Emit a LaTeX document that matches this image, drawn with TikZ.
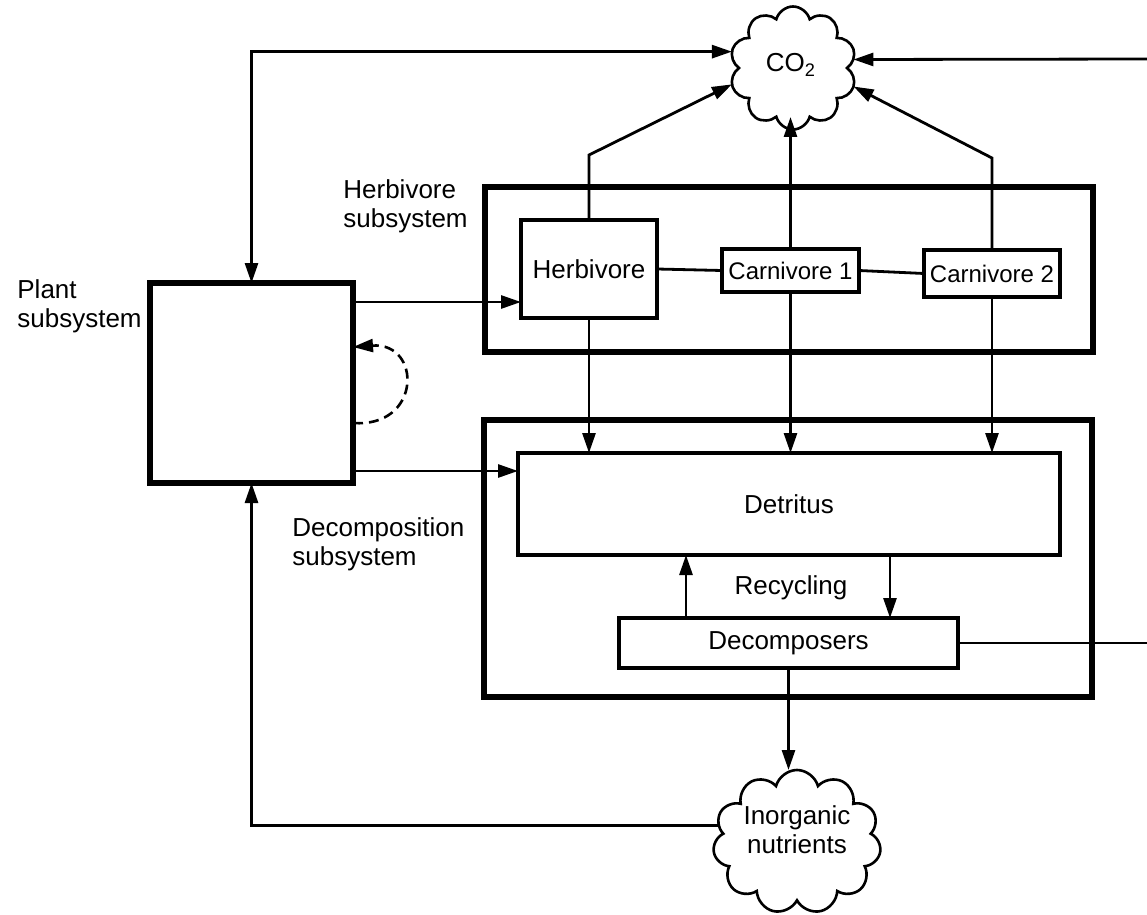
\documentclass[tikz,border=0pt]{standalone}
\usepackage{fontspec}
\setmainfont{Liberation Sans}
\usetikzlibrary{arrows.meta,shapes.symbols,calc}
\begin{document}
\begin{tikzpicture}[x=0.5pt,y=-0.5pt,
  font=\fontsize{13pt}{14.5pt}\selectfont,
  arr/.style={-{Triangle[length=10pt,width=6.5pt]}},
  arrtwo/.style={{Triangle[length=10pt,width=6.5pt]}-{Triangle[length=10pt,width=6.5pt]}},
  conn/.style={line width=1.4pt},
  box/.style={draw, line width=1.8pt, inner sep=0pt, outer sep=0pt, align=center},
  subsys/.style={draw, line width=3pt, inner sep=0pt, outer sep=0pt},
  lab/.style={anchor=north west, align=left, inner sep=0pt},
  cloudnode/.style={cloud, draw, line width=1.3pt, cloud puffs=10, aspect=1, inner sep=0pt, outer sep=0pt}]

\useasboundingbox (0,0) rectangle (1147,915);

% subsystem frames
\node[subsys, minimum width=304pt, minimum height=82.5pt] (hsub) at (789,269.5) {};
\node[subsys, minimum width=304pt, minimum height=138.5pt] (dsub) at (788,558.5) {};

% boxes
\node[box, line width=2.6pt, minimum width=101.5pt, minimum height=100pt] (plant) at (251.5,383) {};
\node[box, minimum width=68pt, minimum height=49pt] (herb) at (589,269) {Herbivore};
\node[box, minimum width=68.5pt, minimum height=21.5pt, font=\fontsize{12pt}{13pt}\selectfont] (c1) at (790.5,270.5) {Carnivore 1};
\node[box, minimum width=68pt, minimum height=23.5pt, font=\fontsize{12pt}{13pt}\selectfont] (c2) at (992,273.5) {Carnivore 2};
\node[box, minimum width=271pt, minimum height=51pt] (det) at (789,504) {Detritus};
\node[box, minimum width=169.5pt, minimum height=25pt] (dec) at (788.5,643) {Decomposers};
\node[inner sep=0pt] (recyc) at (791,588) {Recycling};

% clouds
\node[cloudnode, minimum width=63.5pt, minimum height=61.5pt] (co2) at (793,68) {};
\node[inner sep=0pt] (co2text) at (791,65) {CO\textsubscript{2}};
\node[cloudnode, cloud puffs=11, minimum width=84pt, minimum height=72pt] (nut) at (797,842) {};
\node[inner sep=0pt, align=center] (nuttext) at (797,830) {Inorganic\\nutrients};

% labels
\node[lab] (plantlab) at (17,279) {Plant\\subsystem};
\node[lab] (herblab) at (343,179) {Herbivore\\subsystem};
\node[lab] (declab) at (292,517) {Decomposition\\subsystem};

% free ends at right margin
\coordinate (re1) at (1147,59);
\coordinate (re2) at (1147,643);

% connectors
\draw[conn,arrtwo] (co2.165) -| (plant.north);
\draw[conn,arr] (nut.168) -| (plant.south);
\draw[conn,arr] (plant.east |- 0,302) -- (herb.west |- 0,302);
\draw[conn,arr] (plant.east |- 0,471) -- (det.west |- 0,471);
\draw[line width=1.3pt, dash pattern=on 5pt off 3pt, arr] (plant.east |- 0,423) .. controls (422,428) and (422,342) .. (plant.east |- 0,347);

\draw[conn,arr] (herb.north) -- ++(0,-65) -- (co2.195);
\draw[conn,arr] (c1.north) -- (c1.north |- 0,117);
\draw[conn,arr] (c2.north) -- ++(0,-92) -- (co2.343);
\draw[conn,arr] (re1) -- (co2.8);

\draw[conn] (herb.east) -- (c1.west);
\draw[conn] (c1.east) -- (c2.west);

\draw[conn,arr] (herb.south) -- (herb.south |- det.north);
\draw[conn,arr] (c1.south) -- (c1.south |- det.north);
\draw[conn,arr] (c2.south) -- (c2.south |- det.north);

\draw[conn,arr] (dec.north -| 686,0) -- (det.south -| 686,0);
\draw[conn,arr] (det.south -| 890,0) -- (dec.north -| 890,0);
\draw[conn,arr] (dec.south) -- (dec.south |- nut.north);
\draw[conn] (dec.east) -- (re2);
\end{tikzpicture}
\end{document}
